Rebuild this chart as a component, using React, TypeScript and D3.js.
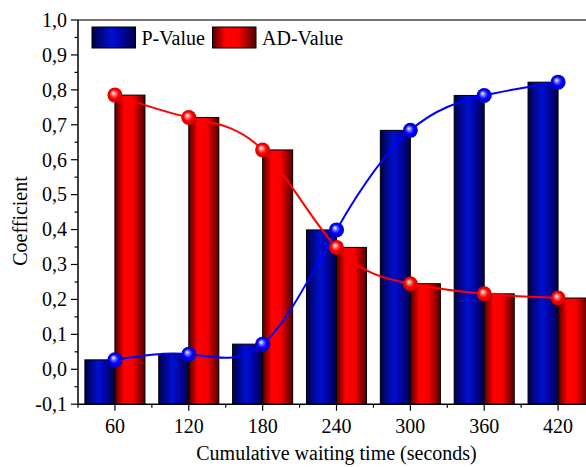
import React from "react";
import * as d3 from "d3";

// Waiting times (seconds) on the x axis
const times = [60, 120, 180, 240, 300, 360, 420];
// Coefficient values per waiting time
const pValues = [0.027, 0.043, 0.072, 0.399, 0.684, 0.784, 0.822];
const adValues = [0.785, 0.721, 0.628, 0.349, 0.245, 0.216, 0.204];
const yTicks = [-0.1, 0, 0.1, 0.2, 0.3, 0.4, 0.5, 0.6, 0.7, 0.8, 0.9, 1.0];
const seriesNames = ["P-Value", "AD-Value"];

const W = 586;
const H = 467;
const FONT = "Liberation Serif, Times New Roman, serif";

export default function App() {
  const x = d3.scaleLinear().domain([30, 450]).range([78, 595]);
  const y = d3.scaleLinear().domain([-0.1, 1.0]).range([404.2, 20]);
  const barW = x(60 + 24.4) - x(60);
  const fmt = (v: number) => v.toFixed(1).replace(".", ",");

  const line = d3
    .line<number>()
    .x((_, i) => x(times[i]))
    .y((d) => y(d))
    .curve(d3.curveNatural);

  const majorX = times;
  const minorX = d3.range(30, 451, 60);
  const minorY = d3.range(-0.05, 1.0, 0.1);

  const series = [
    { name: seriesNames[0], values: pValues, grad: "gBlue", ball: "bBlue", color: "#0000ff", off: -1 },
    { name: seriesNames[1], values: adValues, grad: "gRed", ball: "bRed", color: "#ff0000", off: 0 },
  ];

  return (
    <svg
      width={W}
      height={H}
      style={{ position: "absolute", left: 0, top: 0, background: "#fff", fontFamily: FONT }}
    >
      <defs>
        <linearGradient id="gBlue" x1="0" x2="1" y1="0" y2="0">
          <stop offset="0" stopColor="#000048" />
          <stop offset="0.45" stopColor="#0010d0" />
          <stop offset="0.6" stopColor="#0008b8" />
          <stop offset="1" stopColor="#000048" />
        </linearGradient>
        <linearGradient id="gRed" x1="0" x2="1" y1="0" y2="0">
          <stop offset="0" stopColor="#500000" />
          <stop offset="0.3" stopColor="#ff0000" />
          <stop offset="0.6" stopColor="#f80000" />
          <stop offset="1" stopColor="#500000" />
        </linearGradient>
        <radialGradient id="bBlue" cx="0.5" cy="0.5" r="0.5" fx="0.38" fy="0.35">
          <stop offset="0" stopColor="#ffffff" />
          <stop offset="0.3" stopColor="#6a6aff" />
          <stop offset="0.6" stopColor="#0000ff" />
          <stop offset="1" stopColor="#0000c8" />
        </radialGradient>
        <radialGradient id="bRed" cx="0.5" cy="0.5" r="0.5" fx="0.38" fy="0.35">
          <stop offset="0" stopColor="#ffffff" />
          <stop offset="0.3" stopColor="#ff7070" />
          <stop offset="0.6" stopColor="#ff0000" />
          <stop offset="1" stopColor="#d00000" />
        </radialGradient>
      </defs>

      {/* bars */}
      {series.map((s) =>
        s.values.map((v, i) => {
          const x0 = x(times[i]) + s.off * barW;
          return (
            <rect
              key={s.name + i}
              x={x0}
              y={y(v)}
              width={barW}
              height={y(-0.1) - y(v)}
              fill={`url(#${s.grad})`}
              stroke="#000"
              strokeWidth={1}
            />
          );
        })
      )}

      {/* frame */}
      <line x1={78} x2={W} y1={20} y2={20} stroke="#444" strokeWidth={1.5} />
      <line x1={78} x2={W} y1={y(-0.1)} y2={y(-0.1)} stroke="#000" strokeWidth={1.5} />
      <line x1={78} x2={78} y1={20} y2={y(-0.1)} stroke="#000" strokeWidth={1.5} />

      {/* y ticks */}
      {yTicks.map((t) => (
        <g key={"yt" + t}>
          <line x1={71} x2={78} y1={y(t)} y2={y(t)} stroke="#000" strokeWidth={1.2} />
          <text x={67} y={y(t)} dy="0.34em" textAnchor="end" fontSize={20}>
            {fmt(t)}
          </text>
        </g>
      ))}
      {minorY.map((t) => (
        <line key={"ym" + t} x1={74.5} x2={78} y1={y(t)} y2={y(t)} stroke="#000" strokeWidth={1.2} />
      ))}

      {/* x ticks */}
      {majorX.map((t) => (
        <g key={"xt" + t}>
          <line x1={x(t)} x2={x(t)} y1={y(-0.1)} y2={y(-0.1) + 6.5} stroke="#000" strokeWidth={1.2} />
          <text x={x(t)} y={433} textAnchor="middle" fontSize={20}>
            {t}
          </text>
        </g>
      ))}
      {minorX.map((t) => (
        <line key={"xm" + t} x1={x(t)} x2={x(t)} y1={y(-0.1)} y2={y(-0.1) + 3.5} stroke="#000" strokeWidth={1.2} />
      ))}

      {/* spline lines and markers */}
      {series.map((s) => (
        <g key={"l" + s.name}>
          <path d={line(s.values) || ""} fill="none" stroke={s.color} strokeWidth={2} />
          {s.values.map((v, i) => (
            <circle key={i} cx={x(times[i])} cy={y(v)} r={7.5} fill={`url(#${s.ball})`} />
          ))}
        </g>
      ))}

      {/* legend */}
      {series.map((s, i) => {
        const lx = 92 + i * 120.5;
        return (
          <g key={"lg" + s.name}>
            <rect x={lx} y={27} width={43.5} height={21} fill={`url(#${s.grad})`} stroke="#000" strokeWidth={1} />
            <text x={lx + 49.5} y={45} fontSize={20}>
              {s.name}
            </text>
          </g>
        );
      })}

      {/* axis titles */}
      <text x={336.5} y={460} textAnchor="middle" fontSize={20}>
        Cumulative waiting time (seconds)
      </text>
      <text transform="translate(27,221) rotate(-90)" textAnchor="middle" fontSize={20}>
        Coefficient
      </text>
    </svg>
  );
}
